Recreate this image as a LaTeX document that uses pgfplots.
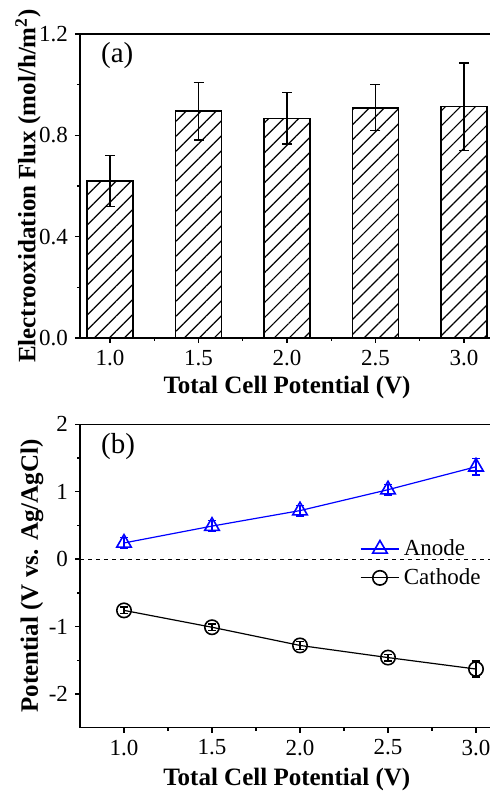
\documentclass[border=0pt]{standalone}
\usepackage{fontspec}
\setmainfont{Liberation Serif}
\usepackage{pgfplots}
\pgfplotsset{compat=1.18}
\usetikzlibrary{patterns.meta}

\pgfplotsset{
  panel/.style={
    scale only axis,
    anchor=south west,
    axis line style={line width=0.7pt},
    tick style={line width=0.7pt, black},
    tick align=outside,
    xtick pos=bottom, ytick pos=left,
    major tick length=2.5pt, minor tick length=1.5pt,
    minor x tick num=1, minor y tick num=1,
    /pgf/number format/assume math mode=true,
    tick label style={font=\fontsize{11.5}{13}\selectfont},
    label style={font=\fontsize{12.5}{14}\selectfont\bfseries},
    xtick={1,1.5,2,2.5,3},
    xticklabel style={/pgf/number format/.cd, fixed, zerofill, precision=1},
  },
}

\begin{document}
\begin{tikzpicture}
\useasboundingbox (0pt,0pt) rectangle (245pt,396pt);

% (a) flux bars
\begin{axis}[panel,
  at={(40pt,227pt)}, width=207pt, height=152pt,
  xmin=0.83, xmax=3.17, ymin=0, ymax=1.2,
  ytick={0,0.4,0.8,1.2},
  yticklabel style={/pgf/number format/.cd, fixed, zerofill, precision=1},
  xlabel={Total Cell Potential (V)},
  ylabel={Electrooxidation Flux (mol/h/m\textsuperscript{2})},
  xlabel style={at={(axis description cs:0.5,0)}, anchor=center, yshift=-24.5pt},
  ylabel style={at={(axis description cs:-0.1256,0.5)}, anchor=center},
]
\addplot[ybar, bar width=0.26, draw=black, line width=0.8pt,
  pattern={Lines[angle=45, distance=5.3pt, line width=0.6pt]},
  error bars/.cd, y dir=both, y explicit,
  error bar style={line width=0.7pt, black},
  error mark options={rotate=90, mark size=2.5pt, line width=0.7pt}]
  coordinates {
    (1.0,0.62)  +- (0,0.100)
    (1.5,0.895) +- (0,0.113)
    (2.0,0.867) +- (0,0.102)
    (2.5,0.909) +- (0,0.091)
    (3.0,0.913) +- (0,0.172)
  };
\node[anchor=west, font=\fontsize{14.5}{15}\selectfont] at (axis description cs:0.034,0.93) {(a)};
\end{axis}

% (b) electrode potentials
\begin{axis}[panel,
  at={(40pt,32.15pt)}, width=206.8pt, height=151.7pt,
  xmin=0.75, xmax=3.10, ymin=-2.5, ymax=2,
  ytick={-2,-1,0,1,2},
  xlabel={Total Cell Potential (V)},
  ylabel={Potential (V vs. Ag/AgCl)},
  xlabel style={at={(axis description cs:0.5,0)}, anchor=center, yshift=-26pt},
  ylabel style={at={(axis description cs:-0.116,0.5)}, anchor=center},
  legend style={draw=none, fill=none, at={(axis description cs:0.676,0.635)},
    anchor=north west, inner sep=0pt, row sep=1pt, cells={anchor=west},
    font=\fontsize{11.5}{13}\selectfont},
  legend image code/.code={\draw[mark repeat=2,mark phase=2]
    plot coordinates {(0cm,0cm)(0.34cm,0cm)(0.68cm,0cm)};},
]
\addplot[black, line width=0.5pt, dash pattern=on 2pt off 2pt, forget plot]
  coordinates {(0.75,0)(3.10,0)};
\addplot[blue, line width=0.6pt, mark=triangle, mark size=4.2pt,
  mark options={fill=white, line width=0.8pt},
  error bars/.cd, y dir=both, y explicit,
  error bar style={line width=0.7pt, blue},
  error mark options={rotate=90, mark size=2pt, line width=0.7pt, blue}]
  coordinates {
    (1.0,0.24) +- (0,0.08)
    (1.5,0.49) +- (0,0.08)
    (2.0,0.72) +- (0,0.08)
    (2.5,1.03) +- (0,0.08)
    (3.0,1.37) +- (0,0.12)
  };
\addlegendentry{Anode}
\addplot[black, line width=0.6pt, mark=o, mark size=3.6pt,
  mark options={fill=white, line width=0.8pt},
  error bars/.cd, y dir=both, y explicit,
  error bar style={line width=0.7pt, black},
  error mark options={rotate=90, mark size=2pt, line width=0.7pt, black}]
  coordinates {
    (1.0,-0.76) +- (0,0.05)
    (1.5,-1.01) +- (0,0.05)
    (2.0,-1.28) +- (0,0.06)
    (2.5,-1.46) +- (0,0.05)
    (3.0,-1.63) +- (0,0.12)
  };
\addlegendentry{Cathode}
\node[anchor=west, font=\fontsize{14.5}{15}\selectfont] at (axis description cs:0.034,0.926) {(b)};
\end{axis}
\end{tikzpicture}
\end{document}
